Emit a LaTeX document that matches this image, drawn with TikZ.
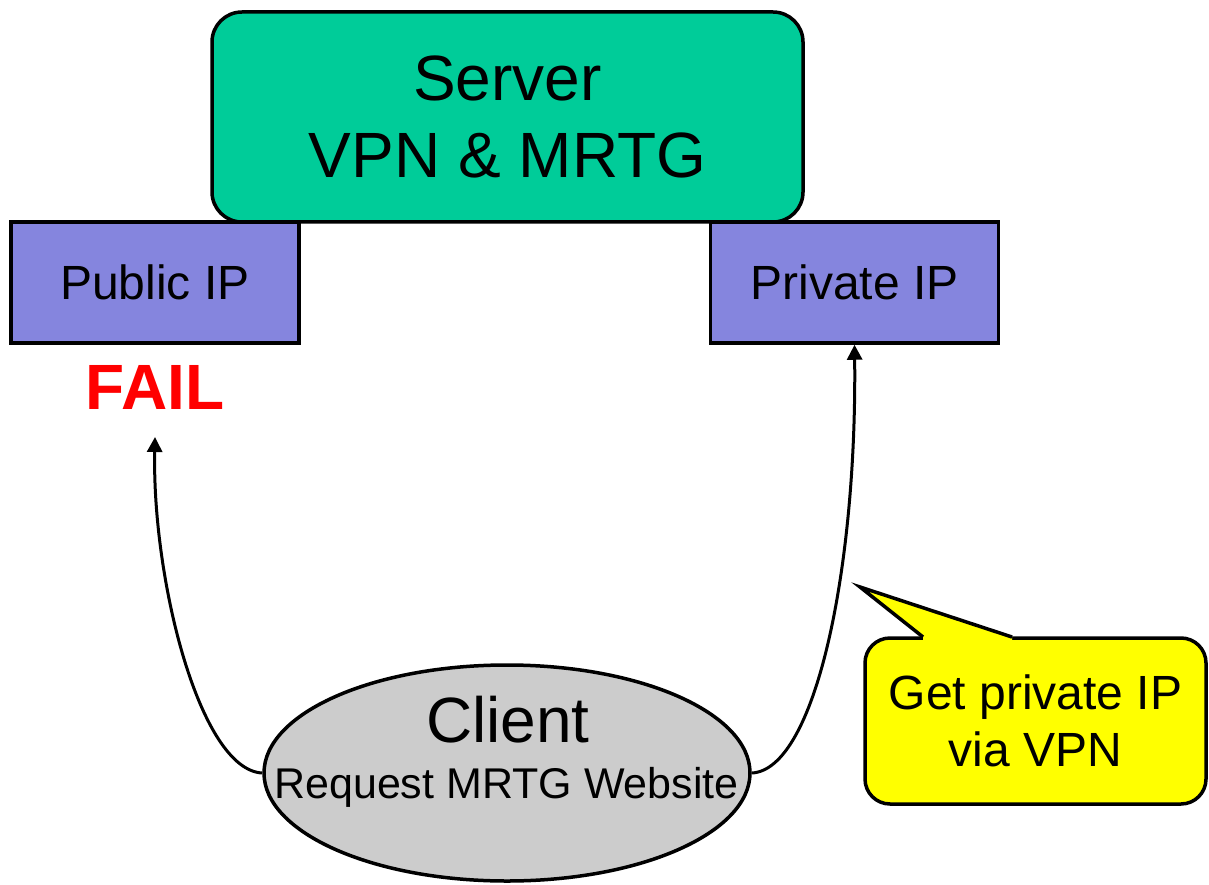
\documentclass[tikz,border=0pt]{standalone}
\usepackage{fontspec}
\setmainfont{Liberation Sans}
\usetikzlibrary{shapes.geometric,arrows.meta}
\definecolor{servergreen}{RGB}{0,204,153}
\definecolor{ipblue}{RGB}{133,133,222}
\definecolor{clientgray}{RGB}{204,204,204}
\definecolor{noteyellow}{RGB}{255,255,0}
\definecolor{failred}{RGB}{255,0,0}
\begin{document}
\begin{tikzpicture}[x=1pt,y=-1pt,
  serverbox/.style={draw, line width=3.5pt, rounded corners=30pt, fill=servergreen,
    minimum width=591pt, minimum height=210pt, inner sep=0pt, align=center,
    font=\fontsize{64}{77}\selectfont},
  ipbox/.style={draw, line width=3.5pt, fill=ipblue, minimum width=288pt,
    minimum height=121pt, inner sep=0pt, font=\fontsize{48}{56}\selectfont},
  clientshape/.style={ellipse, draw, line width=3.5pt, fill=clientgray,
    minimum width=486pt, minimum height=216pt, inner sep=0pt},
  notebox/.style={draw, line width=3.5pt, rounded corners=25pt, fill=noteyellow,
    minimum width=341pt, minimum height=166pt, inner sep=0pt, align=center,
    font=\fontsize{48}{57}\selectfont},
  conn/.style={line width=3pt, -{Triangle[length=15pt,width=15pt]}},
  failtext/.style={text=failred, font=\fontsize{64}{70}\selectfont\bfseries, inner sep=0pt}
]
\useasboundingbox (0,0) rectangle (1209,885);
\fill[white] (0,0) rectangle (1209,885);

\node[serverbox] (server) at (507.5,117) {Server\\VPN \& MRTG};
\node[ipbox] (public) at (155,282.5) {Public IP};
\node[ipbox] (private) at (854.5,282.5) {Private IP};
\node[failtext] (fail) at (155,387) {FAIL};
\coordinate (failtip) at (155,437);

\node[clientshape] (client) at (507,773) {};
\node[anchor=base, inner sep=0pt, font=\fontsize{64}{70}\selectfont] (clienttitle) at (508,742) {Client};
\node[anchor=base, inner sep=0pt, font=\fontsize{43}{48}\selectfont] (clientsub) at (506.5,798) {Request MRTG Website};

\draw[conn] (client.west) .. controls (200,770) and (152,580) .. (failtip);
\draw[conn] (client.east) .. controls (815,770) and (857,570) .. (private.south);

\node[notebox] (note) at (1035.5,721) {Get private IP\\via VPN};
\fill[noteyellow] (923,637) -- (860,587) -- (1012,637) -- (1012,641) -- (923,641) -- cycle;
\draw[line width=3.5pt, line join=miter] (923,637) -- (860,587) -- (1012,637);
\end{tikzpicture}
\end{document}
